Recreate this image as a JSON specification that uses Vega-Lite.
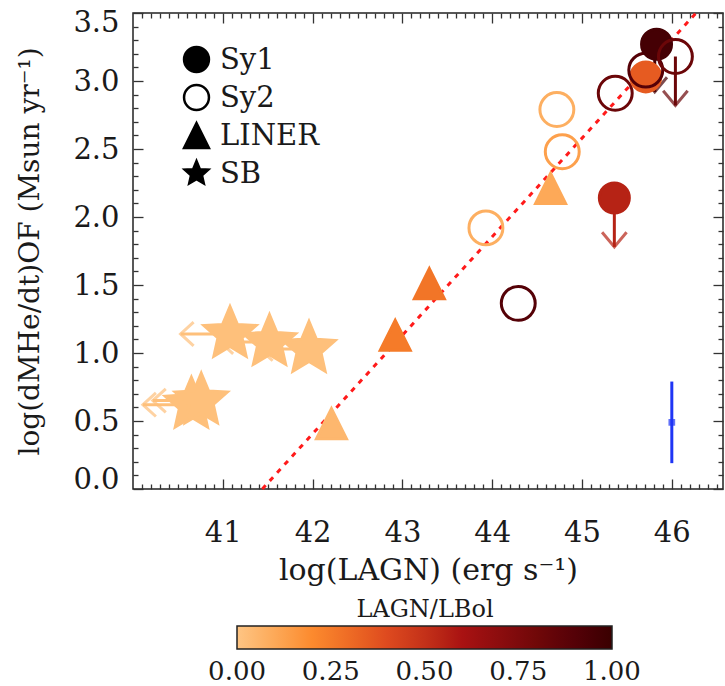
{
  "$schema": "https://vega.github.io/schema/vega-lite/v6.json",
  "width": 590,
  "height": 476,
  "autosize": "none",
  "padding": {"left": 133, "top": 13, "right": 2, "bottom": 197},
  "background": "white",
  "config": {
    "view": {"stroke": "#222", "strokeWidth": 1.5},
    "font": "DejaVu Serif",
    "axis": {"labelFont": "DejaVu Serif", "titleFont": "DejaVu Serif", "labelColor": "#1a1a1a", "titleColor": "#1a1a1a", "tickColor": "#333", "tickWidth": 1.3, "titleFontWeight": "normal", "grid": false, "domain": false},
    "legend": {"labelFont": "DejaVu Serif", "titleFont": "DejaVu Serif", "labelColor": "#1a1a1a", "titleColor": "#1a1a1a", "titleFontWeight": "normal"}
  },
  "datasets": {
    "fit": [{"x": 41.44, "y": 0, "x2": 46.27, "y2": 3.5}],
    "err": [{"x": 46.0, "y": 0.49, "lo": 0.19, "hi": 0.79}],
    "down": [
      {"x": 45.36, "y": 2.14, "ytip": 1.78, "ratio": 0.55},
      {"x": 45.81, "y": 3.27, "ytip": 2.92, "ratio": 0.95},
      {"x": 46.04, "y": 3.18, "ytip": 2.82, "ratio": 0.82}
    ],
    "left": [
      {"x": 40.65, "y": 0.62, "xtip": 40.11, "ratio": 0.02},
      {"x": 40.76, "y": 0.65, "xtip": 40.22, "ratio": 0.02},
      {"x": 41.08, "y": 1.14, "xtip": 40.53, "ratio": 0.02},
      {"x": 41.52, "y": 1.08, "xtip": 40.97, "ratio": 0.02},
      {"x": 41.96, "y": 1.03, "xtip": 41.41, "ratio": 0.02}
    ],
    "pts": [
      {"x": 40.65, "y": 0.62, "type": "SB", "ratio": 0.02},
      {"x": 40.76, "y": 0.65, "type": "SB", "ratio": 0.02},
      {"x": 41.08, "y": 1.14, "type": "SB", "ratio": 0.02},
      {"x": 41.52, "y": 1.08, "type": "SB", "ratio": 0.02},
      {"x": 41.96, "y": 1.03, "type": "SB", "ratio": 0.02},
      {"x": 42.21, "y": 0.48, "type": "LINER", "ratio": 0.05},
      {"x": 42.92, "y": 1.13, "type": "LINER", "ratio": 0.25},
      {"x": 43.30, "y": 1.51, "type": "LINER", "ratio": 0.27},
      {"x": 44.65, "y": 2.21, "type": "LINER", "ratio": 0.1},
      {"x": 43.93, "y": 1.92, "type": "Sy2", "ratio": 0.08},
      {"x": 44.72, "y": 2.79, "type": "Sy2", "ratio": 0.08},
      {"x": 44.78, "y": 2.48, "type": "Sy2", "ratio": 0.13},
      {"x": 44.29, "y": 1.365, "type": "Sy2", "ratio": 0.9},
      {"x": 45.36, "y": 2.14, "type": "Sy1", "ratio": 0.55},
      {"x": 45.37, "y": 2.91, "type": "Sy2", "ratio": 0.82},
      {"x": 45.71, "y": 3.03, "type": "Sy1", "ratio": 0.35},
      {"x": 45.71, "y": 3.08, "type": "Sy2", "ratio": 0.9},
      {"x": 45.83, "y": 3.27, "type": "Sy1", "ratio": 0.96},
      {"x": 46.04, "y": 3.18, "type": "Sy2", "ratio": 0.82}
    ]
  },
  "resolve": {"axis": {"x": "independent", "y": "independent"}},
  "layer": [
    {
      "data": {"name": "fit"},
      "mark": {"type": "rule", "color": "#ff1a1a", "strokeWidth": 3, "strokeDash": [5, 6]},
      "encoding": {
        "x": {"field": "x", "type": "quantitative", "scale": {"domain": [40, 46.57], "nice": false, "zero": false},
          "axis": {"orient": "bottom", "values": [41, 42, 43, 44, 45, 46], "format": "d", "ticks": false, "labelFontSize": 29, "labelPadding": 29, "title": "log(LAGN) (erg s⁻¹)", "titleFontSize": 30, "titlePadding": 8}},
        "y": {"field": "y", "type": "quantitative", "scale": {"domain": [0, 3.5], "nice": false, "zero": false},
          "axis": {"orient": "left", "values": [0, 0.5, 1, 1.5, 2, 2.5, 3, 3.5], "format": ".1f", "ticks": false, "labelFlush": true, "labelFlushOffset": 5, "labelFontSize": 29, "labelPadding": 14, "title": "log(dMHe/dt)OF (Msun yr⁻¹)", "titleFontSize": 28, "titlePadding": 28}},
        "x2": {"field": "x2"},
        "y2": {"field": "y2"}
      }
    },
    {
      "data": {"name": "err"},
      "mark": {"type": "rule", "color": "#1f35f5", "strokeWidth": 3},
      "encoding": {
        "x": {"field": "x", "type": "quantitative", "scale": {"domain": [40, 46.57], "nice": false, "zero": false},
          "axis": {"orient": "bottom", "values": [41, 42, 43, 44, 45, 46], "labels": false, "tickSize": -10, "title": null}},
        "y": {"field": "lo", "type": "quantitative", "scale": {"domain": [0, 3.5], "nice": false, "zero": false},
          "axis": {"orient": "left", "values": [0, 0.5, 1, 1.5, 2, 2.5, 3, 3.5], "labels": false, "tickSize": -10, "title": null}},
        "y2": {"field": "hi"}
      }
    },
    {
      "data": {"name": "err"},
      "mark": {"type": "point", "shape": "square", "filled": true, "color": "#1f35f5", "size": 45},
      "encoding": {
        "x": {"field": "x", "type": "quantitative", "scale": {"domain": [40, 46.57], "nice": false, "zero": false}, "axis": null},
        "y": {"field": "y", "type": "quantitative", "scale": {"domain": [0, 3.5], "nice": false, "zero": false}, "axis": null}
      }
    },
    {
      "data": {"name": "down"},
      "mark": {"type": "rule", "strokeWidth": 3},
      "encoding": {
        "x": {"field": "x", "type": "quantitative", "scale": {"domain": [40, 46.57], "nice": false, "zero": false},
          "axis": {"orient": "bottom", "values": [40.1,40.2,40.3,40.4,40.5,40.6,40.7,40.8,40.9,41.1,41.2,41.3,41.4,41.5,41.6,41.7,41.8,41.9,42.1,42.2,42.3,42.4,42.5,42.6,42.7,42.8,42.9,43.1,43.2,43.3,43.4,43.5,43.6,43.7,43.8,43.9,44.1,44.2,44.3,44.4,44.5,44.6,44.7,44.8,44.9,45.1,45.2,45.3,45.4,45.5,45.6,45.7,45.8,45.9,46.1,46.2,46.3,46.4,46.5], "labels": false, "tickSize": -5, "title": null}},
        "y": {"field": "y", "type": "quantitative", "scale": {"domain": [0, 3.5], "nice": false, "zero": false},
          "axis": {"orient": "left", "values": [0.1,0.2,0.3,0.4,0.6,0.7,0.8,0.9,1.1,1.2,1.3,1.4,1.6,1.7,1.8,1.9,2.1,2.2,2.3,2.4,2.6,2.7,2.8,2.9,3.1,3.2,3.3,3.4], "labels": false, "tickSize": -5, "title": null}},
        "y2": {"field": "ytip"},
        "stroke": {"field": "ratio", "type": "quantitative", "scale": {"domain": [-0.0002, 0.2, 0.4, 0.6, 0.8, 1.0002], "range": ["#fec584", "#fc8a2e", "#de4a1f", "#a91212", "#700808", "#3a0000"]}, "legend": null}
      }
    },
    {
      "data": {"name": "down"},
      "mark": {"type": "point", "shape": "M-1,-1.2L0,0L1,-1.2", "filled": false, "strokeWidth": 3, "size": 600},
      "encoding": {
        "x": {"field": "x", "type": "quantitative", "scale": {"domain": [40, 46.57], "nice": false, "zero": false},
          "axis": {"orient": "top", "values": [41, 42, 43, 44, 45, 46], "labels": false, "tickSize": -10, "title": null}},
        "y": {"field": "ytip", "type": "quantitative", "scale": {"domain": [0, 3.5], "nice": false, "zero": false},
          "axis": {"orient": "right", "values": [0, 0.5, 1, 1.5, 2, 2.5, 3, 3.5], "labels": false, "tickSize": -10, "title": null}},
        "stroke": {"field": "ratio", "type": "quantitative", "scale": {"domain": [-0.0002, 0.2, 0.4, 0.6, 0.8, 1.0002], "range": ["#fec584", "#fc8a2e", "#de4a1f", "#a91212", "#700808", "#3a0000"]}, "legend": null}
      }
    },
    {
      "data": {"name": "left"},
      "mark": {"type": "rule", "strokeWidth": 3},
      "encoding": {
        "x": {"field": "x", "type": "quantitative", "scale": {"domain": [40, 46.57], "nice": false, "zero": false}, "axis": null},
        "x2": {"field": "xtip"},
        "y": {"field": "y", "type": "quantitative", "scale": {"domain": [0, 3.5], "nice": false, "zero": false}, "axis": null},
        "stroke": {"field": "ratio", "type": "quantitative", "scale": {"domain": [-0.0002, 0.2, 0.4, 0.6, 0.8, 1.0002], "range": ["#fec584", "#fc8a2e", "#de4a1f", "#a91212", "#700808", "#3a0000"]}, "legend": null}
      }
    },
    {
      "data": {"name": "left"},
      "mark": {"type": "point", "shape": "M1.1,-1L0,0L1.1,1", "filled": false, "strokeWidth": 3, "size": 560},
      "encoding": {
        "x": {"field": "xtip", "type": "quantitative", "scale": {"domain": [40, 46.57], "nice": false, "zero": false}, "axis": null},
        "y": {"field": "y", "type": "quantitative", "scale": {"domain": [0, 3.5], "nice": false, "zero": false}, "axis": null},
        "stroke": {"field": "ratio", "type": "quantitative", "scale": {"domain": [-0.0002, 0.2, 0.4, 0.6, 0.8, 1.0002], "range": ["#fec584", "#fc8a2e", "#de4a1f", "#a91212", "#700808", "#3a0000"]}, "legend": null}
      }
    },
    {
      "data": {"name": "pts"},
      "mark": {"type": "point", "filled": true, "strokeWidth": 3, "opacity": 1},
      "encoding": {
        "x": {"field": "x", "type": "quantitative", "scale": {"domain": [40, 46.57], "nice": false, "zero": false},
          "axis": {"orient": "top", "values": [40.1,40.2,40.3,40.4,40.5,40.6,40.7,40.8,40.9,41.1,41.2,41.3,41.4,41.5,41.6,41.7,41.8,41.9,42.1,42.2,42.3,42.4,42.5,42.6,42.7,42.8,42.9,43.1,43.2,43.3,43.4,43.5,43.6,43.7,43.8,43.9,44.1,44.2,44.3,44.4,44.5,44.6,44.7,44.8,44.9,45.1,45.2,45.3,45.4,45.5,45.6,45.7,45.8,45.9,46.1,46.2,46.3,46.4,46.5], "labels": false, "tickSize": -5, "title": null}},
        "y": {"field": "y", "type": "quantitative", "scale": {"domain": [0, 3.5], "nice": false, "zero": false},
          "axis": {"orient": "right", "values": [0.1,0.2,0.3,0.4,0.6,0.7,0.8,0.9,1.1,1.2,1.3,1.4,1.6,1.7,1.8,1.9,2.1,2.2,2.3,2.4,2.6,2.7,2.8,2.9,3.1,3.2,3.3,3.4], "labels": false, "tickSize": -5, "title": null}},
        "shape": {"field": "type", "type": "nominal",
          "scale": {"domain": ["Sy1", "Sy2", "LINER", "SB"], "range": ["circle", "circle", "M0,-1L1,1L-1,1Z", "M0,-1L0.27,-0.35L0.951,-0.309L0.44,0.14L0.588,0.809L0,0.46L-0.588,0.809L-0.44,0.14L-0.951,-0.309L-0.27,-0.35Z"]},
          "legend": {"orient": "none", "legendX": 49, "legendY": 32, "title": null, "labelFont": "DejaVu Serif", "labelFontSize": 29, "symbolSize": 620, "symbolFillColor": {"expr": "datum.value === 'Sy2' ? 'transparent' : 'black'"}, "symbolStrokeColor": "black", "symbolStrokeWidth": 2.5, "rowPadding": 3, "labelOffset": 9, "padding": 0}},
        "size": {"condition": [{"test": "datum.type === 'SB'", "value": 3000}, {"test": "datum.type === 'Sy2'", "value": 1150}], "value": 900},
        "fill": {"field": "ratio", "type": "quantitative", "scale": {"domain": [-0.0001, 0.2, 0.4, 0.6, 0.8, 1.0001], "range": ["#fec584", "#fc8a2e", "#de4a1f", "#a91212", "#700808", "#3a0000"]},
          "legend": {"orient": "none", "direction": "horizontal", "legendX": 104, "legendY": 585, "gradientLength": 375, "gradientThickness": 23, "gradientStrokeColor": "#222", "gradientStrokeWidth": 1.5, "title": "LAGN/LBol", "titleFont": "DejaVu Serif", "titleFontSize": 24, "titleAnchor": "middle", "titleOrient": "top", "titlePadding": 4, "values": [0, 0.25, 0.5, 0.75, 1], "format": ".2f", "labelFont": "DejaVu Serif", "labelFontSize": 26, "labelOffset": 10, "labelOverlap": false}},
        "stroke": {"field": "ratio", "type": "quantitative", "scale": {"domain": [-0.0002, 0.2, 0.4, 0.6, 0.8, 1.0002], "range": ["#fec584", "#fc8a2e", "#de4a1f", "#a91212", "#700808", "#3a0000"]}, "legend": null},
        "fillOpacity": {"condition": {"test": "datum.type === 'Sy2'", "value": 0}, "value": 1}
      }
    }
  ]
}
